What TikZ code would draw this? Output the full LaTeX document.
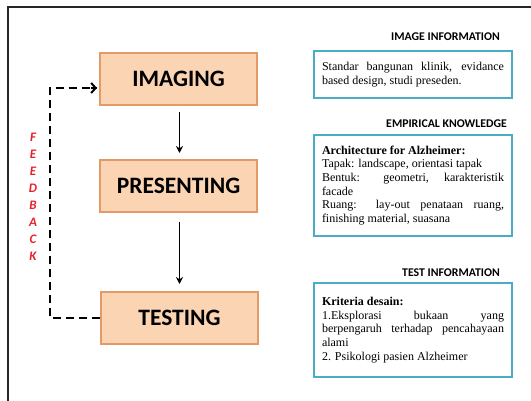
\documentclass[tikz,border=0pt]{standalone}
\usepackage{fontspec}
\setmainfont{Liberation Serif}
\newfontfamily\calib{Carlito}
\usetikzlibrary{arrows.meta}
\definecolor{peach}{HTML}{FBD4B4}
\definecolor{peachline}{HTML}{E39A66}
\definecolor{tealline}{HTML}{4BACC6}
\definecolor{fbred}{HTML}{E8202A}
\tikzset{
  stagebox/.style={draw=peachline, line width=1.2pt, fill=peach, minimum width=157pt, minimum height=52pt, inner sep=0pt, font=\calib\bfseries\fontsize{23.5}{26}\selectfont},
  infobox/.style={draw=tealline, line width=1.5pt, fill=white, text width=182pt, inner xsep=8pt, inner ysep=0pt, minimum width=198pt, align=justify, font=\fontsize{12}{13.7}\selectfont},
  infohead/.style={anchor=east, inner sep=0pt, font=\calib\bfseries\fontsize{11.8}{13}\selectfont},
  flowarrow/.style={-{Stealth[length=7pt,width=7pt]}, line width=1.3pt},
  fbline/.style={line width=2pt, dash pattern=on 8pt off 5pt}
}
\begin{document}
\begin{tikzpicture}[x=1pt,y=-1pt]
\useasboundingbox (0,0) rectangle (531,401);
% frame (top and left edges)
\draw[line width=2pt, black!85] (8,401) -- (8,7) -- (531,7);

% stages
\node[stagebox] (img) at (178.5,79) {IMAGING};
\node[stagebox] (pre) at (178.5,186) {PRESENTING};
\node[stagebox] (tst) at (179.5,318) {TESTING};

\coordinate (a1s) at (179.5,112);
\coordinate (a1e) at (179.5,153);
\coordinate (a2s) at (179.5,222);
\coordinate (a2e) at (179.5,284);
\draw[flowarrow] (a1s) -- (a1e);
\draw[flowarrow] (a2s) -- (a2e);

% feedback loop
\coordinate (fbb) at (50,318);
\coordinate (fbt) at (50,88);
\coordinate (fbe) at (97,88);
\draw[fbline] (tst.west) -- (fbb) -- (fbt) -- (fbe);
\draw[line width=2pt, -{Straight Barb[length=4.5pt,width=10pt,line width=2pt]}] ([xshift=-6pt]fbe) -- (fbe);
\node[text=fbred, font=\calib\bfseries\itshape\fontsize{13}{17}\selectfont, align=center, inner sep=0pt] (fb) at (33,196.5) {F\\E\\E\\D\\B\\A\\C\\K};

% info headers
\node[infohead] (h1) at (500,37) {IMAGE INFORMATION};
\node[infohead] (h2) at (507,124) {EMPIRICAL KNOWLEDGE};
\node[infohead] (h3) at (500,273) {TEST INFORMATION};

% info boxes
\node[infobox, minimum height=47pt] (b1) at (413,74.5) {Standar bangunan klinik, evidance\linebreak based design, studi preseden.};
\node[infobox, minimum height=101pt] (b2) at (413,185.5) {\textbf{Architecture for Alzheimer:}\par
Tapak: landscape, orientasi tapak\par
Bentuk: geometri, karakteristik\linebreak facade\par
Ruang: lay-out penataan ruang,\linebreak finishing material, suasana};
\node[infobox, minimum height=94pt] (b3) at (413,330) {\textbf{Kriteria desain:}\par
1.Eksplorasi bukaan yang\linebreak berpengaruh terhadap pencahayaan\linebreak alami\par
2. Psikologi pasien Alzheimer};
\end{tikzpicture}
\end{document}
